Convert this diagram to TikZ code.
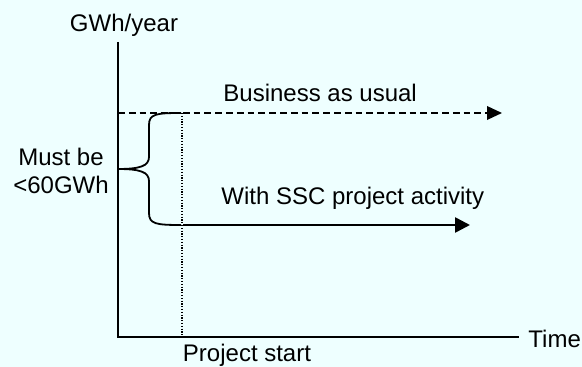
\documentclass[tikz,border=0pt]{standalone}
\usepackage{fontspec}
\setmainfont{Liberation Sans}
\usetikzlibrary{arrows.meta}
\definecolor{bgcol}{RGB}{238,255,255}
\begin{document}
\begin{tikzpicture}[x=0.5pt,y=-0.5pt,
  lbl/.style={inner sep=0pt,font=\fontsize{12}{14}\selectfont},
  axisline/.style={line width=0.8pt},
  bauline/.style={line width=0.8pt,dash pattern=on 3.4pt off 2pt,-{Triangle[length=7.5pt,width=6.8pt]}},
  sscline/.style={line width=1.3pt,-{Triangle[length=7.5pt,width=7.5pt]}},
  dotline/.style={line width=0.7pt,dash pattern=on 0.6pt off 0.8pt},
  bracestyle/.style={line width=0.9pt}]
\fill[bgcol] (0,0) rectangle (582,367);
\useasboundingbox (0,0) rectangle (582,367);
% coordinates
\coordinate (O) at (118,337);
\coordinate (ytop) at (118,42);
\coordinate (xend) at (519,337);
\coordinate (bauS) at (118,113);
\coordinate (bauE) at (502,113);
\coordinate (sscS) at (183,225);
\coordinate (sscE) at (470,225);
\coordinate (dotTop) at (182,113);
\coordinate (dotBot) at (182,337);
% axes
\draw[axisline] (ytop) -- (O) -- (xend);
% lines
\draw[dotline] (dotTop) -- (dotBot);
\draw[bauline] (bauS) -- (bauE);
\draw[sscline] (sscS) -- (sscE);
% brace
\draw[bracestyle] (181,113) .. controls (156,113) and (149,114) .. (149,125)
  -- (149,157) .. controls (149,166) and (140,169) .. (118,169)
  .. controls (140,169) and (149,172) .. (149,181)
  -- (149,213) .. controls (149,224) and (156,225) .. (181,225);
% labels
\node[lbl,anchor=base] (ylab) at (124,32) {GWh/year};
\node[lbl,anchor=base west] (time) at (528,348) {Time};
\node[lbl,anchor=base] (pstart) at (247,361) {Project start};
\node[lbl,anchor=base west] (bau) at (223,102) {Business as usual};
\node[lbl,anchor=base west] (ssc) at (221,205) {With SSC project activity};
\node[lbl,align=center] (must) at (61,171) {Must be\\<60GWh};
\end{tikzpicture}
\end{document}
